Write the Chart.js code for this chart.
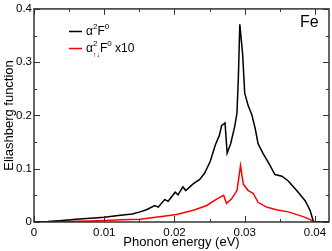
<!DOCTYPE html>
<html>
<head>
<meta charset="utf-8">
<script src="https://cdn.jsdelivr.net/npm/chart.js@4"></script>
<style>
  body { margin: 0; background: #fff; }
</style>
</head>
<body>
<canvas id="chart" width="332" height="251"></canvas>
<script>
// alpha^2 F (black)
const energyTotal = [0, 0.002, 0.004, 0.006, 0.008, 0.010, 0.012, 0.014, 0.0151, 0.016, 0.0172, 0.0177,
  0.0186, 0.0191, 0.0201, 0.0205, 0.0212, 0.0216, 0.0227, 0.0236, 0.0243, 0.0251, 0.0258, 0.0264,
  0.0267, 0.0272, 0.0275, 0.028, 0.0286, 0.0289, 0.0291, 0.0293, 0.0297, 0.03, 0.0305, 0.031,
  0.0315, 0.0319, 0.0326, 0.0334, 0.0343, 0.0353, 0.0362, 0.0374, 0.0386, 0.0393, 0.0398, 0.042];
const a2fTotal = [0, 0.001, 0.003, 0.005, 0.007, 0.009, 0.012, 0.015, 0.019, 0.023, 0.031, 0.028,
  0.042, 0.039, 0.056, 0.051, 0.066, 0.059, 0.072, 0.08, 0.092, 0.114, 0.144, 0.163,
  0.181, 0.186, 0.129, 0.147, 0.181, 0.205, 0.273, 0.371, 0.316, 0.242, 0.218, 0.202,
  0.175, 0.147, 0.129, 0.111, 0.089, 0.086, 0.077, 0.059, 0.04, 0.022, 0, 0];

// alpha^2_{up,down} F x10 (red)
const energyUpDown = [0, 0.004, 0.008, 0.010, 0.0125, 0.0151, 0.0179, 0.0203, 0.0227, 0.0246, 0.026,
  0.027, 0.0274, 0.0281, 0.0289, 0.0291, 0.0294, 0.0298, 0.0305, 0.0312, 0.0319, 0.0331, 0.0345,
  0.0362, 0.0381, 0.0393, 0.0398, 0.042];
const a2fUpDown = [0, 0.001, 0.002, 0.003, 0.004, 0.005, 0.01, 0.014, 0.022, 0.031, 0.043,
  0.05, 0.035, 0.043, 0.059, 0.077, 0.106, 0.071, 0.059, 0.054, 0.037, 0.028, 0.023,
  0.019, 0.011, 0.005, 0, 0];

const xTicks = [0, 0.01, 0.02, 0.03, 0.04];
const xTickLabels = ["0", "0.01", "0.02", "0.03", "0.04"];
const xMinor = [0.005, 0.015, 0.025, 0.035];
const yTicks = [0, 0.1, 0.2, 0.3, 0.4];
const yTickLabels = ["0", "0.1", "0.2", "0.3", "0.4"];
const yMinor = [0.05, 0.15, 0.25, 0.35];

const FONT = "'Liberation Sans', Arial, sans-serif";

const framePlugin = {
  id: "frame",
  afterDatasetsDraw(chart) {
    const { ctx, chartArea: a, scales } = chart;
    const x = scales.x, y = scales.y;
    ctx.save();
    ctx.strokeStyle = "#333";
    ctx.lineWidth = 1.5;
    ctx.strokeRect(a.left, a.top, a.right - a.left, a.bottom - a.top);
    ctx.lineWidth = 1;
    ctx.beginPath();
    const tx = (v, len) => {
      const p = Math.round(x.getPixelForValue(v)) + 0.5;
      ctx.moveTo(p, a.bottom); ctx.lineTo(p, a.bottom - len);
      ctx.moveTo(p, a.top); ctx.lineTo(p, a.top + len);
    };
    const ty = (v, len) => {
      const p = Math.round(y.getPixelForValue(v)) + 0.5;
      ctx.moveTo(a.left, p); ctx.lineTo(a.left + len, p);
      ctx.moveTo(a.right, p); ctx.lineTo(a.right - len, p);
    };
    xTicks.forEach(v => tx(v, 6));
    xMinor.forEach(v => tx(v, 3));
    yTicks.forEach(v => ty(v, 6));
    yMinor.forEach(v => ty(v, 3));
    ctx.stroke();
    ctx.restore();
  },
  afterDraw(chart) {
    const ctx = chart.ctx;
    ctx.save();
    ctx.textBaseline = "alphabetic";
    ctx.fillStyle = "#000";
    // Fe label
    ctx.font = "16px " + FONT;
    ctx.fillText("Fe", 300, 27);

    // legend
    ctx.lineWidth = 1.5;
    ctx.strokeStyle = "#000";
    ctx.beginPath(); ctx.moveTo(69, 31.5); ctx.lineTo(82, 31.5); ctx.stroke();
    ctx.strokeStyle = "#ff0000";
    ctx.beginPath(); ctx.moveTo(69, 48.5); ctx.lineTo(82, 48.5); ctx.stroke();

    const big = "12px " + FONT, small = "8px " + FONT;
    let cx = 86;
    ctx.font = big; ctx.fillText("\u03b1", cx, 35); cx += ctx.measureText("\u03b1").width;
    ctx.font = small; ctx.fillText("2", cx, 29); cx += ctx.measureText("2").width;
    ctx.font = big; ctx.fillText("F", cx, 35); cx += ctx.measureText("F").width;
    ctx.font = small; ctx.fillText("0", cx, 29);

    cx = 86;
    ctx.font = big; ctx.fillText("\u03b1", cx, 52); cx += ctx.measureText("\u03b1").width;
    ctx.font = small; ctx.fillText("2", cx, 46);
    ctx.font = "7px " + FONT; ctx.fillText("\u2191\u2193", cx, 57);
    cx += ctx.measureText("\u2191\u2193").width;
    ctx.font = big; ctx.fillText("F", cx, 52); cx += ctx.measureText("F").width;
    ctx.font = small; ctx.fillText("0", cx, 46); cx += ctx.measureText("0").width;
    ctx.font = big; ctx.fillText(" x10", cx, 52);
    ctx.restore();
  }
};

const toPoints = (xs, ys) => xs.map((v, i) => ({ x: v, y: ys[i] }));

new Chart(document.getElementById("chart"), {
  type: "line",
  data: {
    datasets: [
      {
        label: "a2F",
        data: toPoints(energyTotal, a2fTotal),
        borderColor: "#000",
        borderWidth: 1.5,
        pointRadius: 0,
        tension: 0,
      },
      {
        label: "a2F updown x10",
        data: toPoints(energyUpDown, a2fUpDown),
        borderColor: "#ff0000",
        borderWidth: 1.5,
        pointRadius: 0,
        tension: 0,
      },
    ],
  },
  options: {
    responsive: false,
    animation: false,
    layout: { padding: { top: 5, right: 3, left: 0, bottom: 0 } },
    plugins: { legend: { display: false }, tooltip: { enabled: false } },
    scales: {
      x: {
        type: "linear",
        min: 0,
        max: 0.042,
        afterBuildTicks: (s) => { s.ticks = xTicks.map(v => ({ value: v })); },
        afterFit: (s) => { s.height = 29; },
        grid: { display: false, drawTicks: false },
        border: { display: false },
        ticks: {
          padding: 4,
          maxRotation: 0,
          color: "#000",
          font: { family: FONT, size: 11.5 },
          callback: (v, i) => xTickLabels[i],
        },
        title: {
          display: true,
          text: "Phonon energy (eV)",
          color: "#000",
          font: { family: FONT, size: 13 },
          padding: { top: 0, bottom: 1 },
        },
      },
      y: {
        min: 0,
        max: 0.4,
        afterBuildTicks: (s) => { s.ticks = yTicks.map(v => ({ value: v })); },
        afterFit: (s) => { s.width = 34; },
        grid: { display: false, drawTicks: false },
        border: { display: false },
        ticks: {
          padding: 2,
          color: "#000",
          font: { family: FONT, size: 11.5 },
          callback: (v, i) => yTickLabels[i],
        },
        title: {
          display: true,
          text: "Eliashberg function",
          color: "#000",
          font: { family: FONT, size: 13 },
          padding: { top: 2, bottom: 0 },
        },
      },
    },
  },
  plugins: [framePlugin],
});
</script>
</body>
</html>
